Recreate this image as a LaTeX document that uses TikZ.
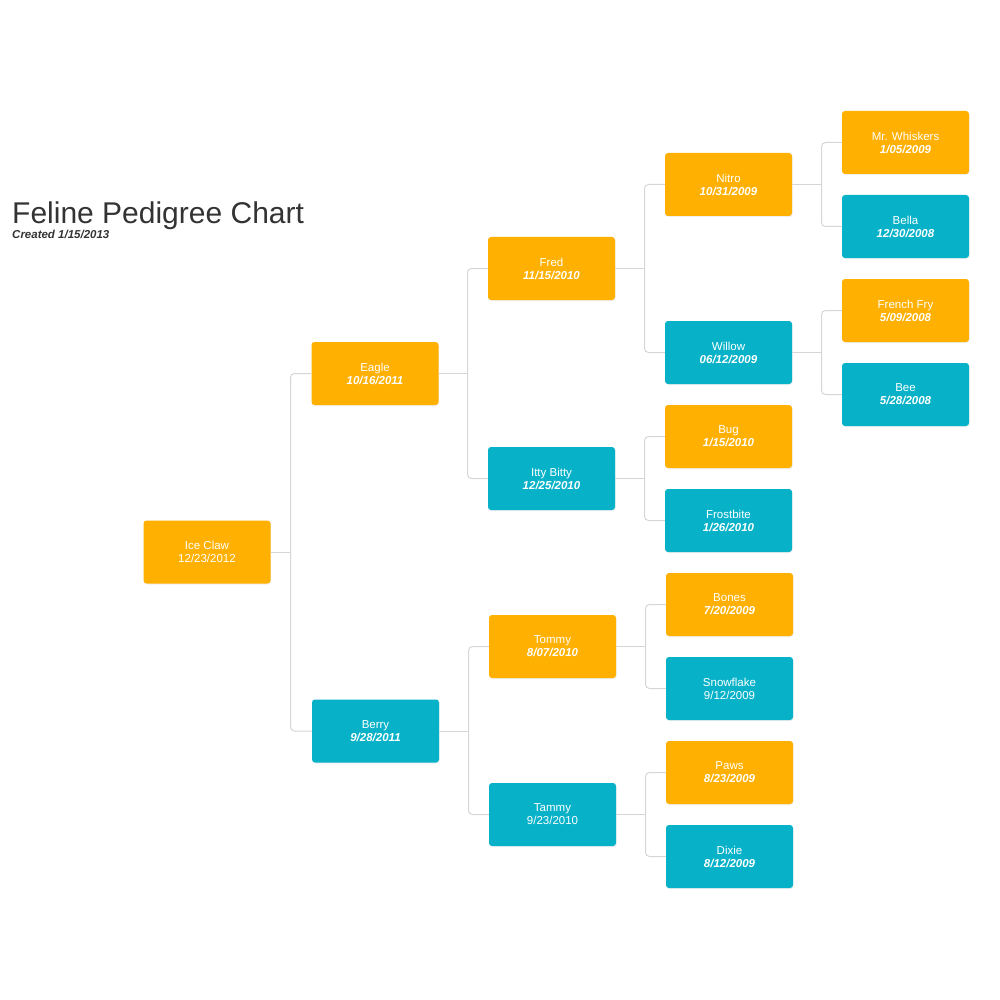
\documentclass[tikz,border=0pt]{standalone}
\usepackage{fontspec}
\setmainfont{Liberation Sans}
\usepackage{tikz}
\usetikzlibrary{shadows}
\definecolor{catorange}{HTML}{FFB000}
\definecolor{catteal}{HTML}{07B2C9}
\definecolor{linkgray}{HTML}{D6D6D6}
\definecolor{titlegray}{HTML}{333333}
\newcommand{\dob}[1]{\textbf{\textit{#1}}}

\begin{document}
\begin{tikzpicture}[x=1pt, y=-1pt,
  cat/.style={rounded corners=3pt, minimum width=127pt, minimum height=63pt, inner sep=0pt,
    text=white, align=center, font=\fontsize{11.5}{13}\selectfont,
    drop shadow={opacity=0.12, shadow xshift=0.6pt, shadow yshift=-1pt}},
  tom/.style={cat, fill=catorange},
  queen/.style={cat, fill=catteal},
  link/.style={linkgray, line width=1pt, rounded corners=4pt}]
\useasboundingbox (0,0) rectangle (1000,1000);
% title
\node[anchor=base west, inner sep=0pt, text=titlegray, font=\fontsize{30}{34}\selectfont] (Title) at (12,223) {Feline Pedigree Chart};
\node[anchor=base west, inner sep=0pt, text=titlegray, font=\fontsize{11.5}{13}\selectfont\bfseries\itshape] (Created) at (12,238) {Created 1/15/2013};
% generation 1
\node[tom] (IceClaw) at (207,552) {Ice Claw\\12/23/2012};
% generation 2
\node[tom] (Eagle) at (375,373.5) {Eagle\\\dob{10/16/2011}};
\node[queen] (Berry) at (375.5,731) {Berry\\\dob{9/28/2011}};
% generation 3
\node[tom] (Fred) at (551.5,268.5) {Fred\\\dob{11/15/2010}};
\node[queen] (IttyBitty) at (551.5,478.5) {Itty Bitty\\\dob{12/25/2010}};
\node[tom] (Tommy) at (552.5,646.5) {Tommy\\\dob{8/07/2010}};
\node[queen] (Tammy) at (552.5,814.5) {Tammy\\9/23/2010};
% generation 4
\node[tom] (Nitro) at (728.5,184.5) {Nitro\\\dob{10/31/2009}};
\node[queen] (Willow) at (728.5,352.5) {Willow\\\dob{06/12/2009}};
\node[tom] (Bug) at (728.5,436.5) {Bug\\\dob{1/15/2010}};
\node[queen] (Frostbite) at (728.5,520.5) {Frostbite\\\dob{1/26/2010}};
\node[tom] (Bones) at (729.5,604.5) {Bones\\\dob{7/20/2009}};
\node[queen] (Snowflake) at (729.5,688.5) {Snowflake\\9/12/2009};
\node[tom] (Paws) at (729.5,772.5) {Paws\\\dob{8/23/2009}};
\node[queen] (Dixie) at (729.5,856.5) {Dixie\\\dob{8/12/2009}};
% generation 5
\node[tom] (Whiskers) at (905.5,142.5) {Mr. Whiskers\\\dob{1/05/2009}};
\node[queen] (Bella) at (905.5,226.5) {Bella\\\dob{12/30/2008}};
\node[tom] (FrenchFry) at (905.5,310.5) {French Fry\\\dob{5/09/2008}};
\node[queen] (Bee) at (905.5,394.5) {Bee\\\dob{5/28/2008}};
% links
\draw[link] (IceClaw.east) -- (290.5,552) coordinate (jIceClaw);
\draw[link] (Eagle.west) -| (jIceClaw) |- (Berry.west);
\draw[link] (Eagle.east) -- (467.5,373.5) coordinate (jEagle);
\draw[link] (Fred.west) -| (jEagle) |- (IttyBitty.west);
\draw[link] (Berry.east) -- (468.5,731) coordinate (jBerry);
\draw[link] (Tommy.west) -| (jBerry) |- (Tammy.west);
\draw[link] (Fred.east) -- (644.5,268.5) coordinate (jFred);
\draw[link] (Nitro.west) -| (jFred) |- (Willow.west);
\draw[link] (IttyBitty.east) -- (644.5,478.5) coordinate (jIttyBitty);
\draw[link] (Bug.west) -| (jIttyBitty) |- (Frostbite.west);
\draw[link] (Tommy.east) -- (645.5,646.5) coordinate (jTommy);
\draw[link] (Bones.west) -| (jTommy) |- (Snowflake.west);
\draw[link] (Tammy.east) -- (645.5,814.5) coordinate (jTammy);
\draw[link] (Paws.west) -| (jTammy) |- (Dixie.west);
\draw[link] (Nitro.east) -- (821.5,184.5) coordinate (jNitro);
\draw[link] (Whiskers.west) -| (jNitro) |- (Bella.west);
\draw[link] (Willow.east) -- (821.5,352.5) coordinate (jWillow);
\draw[link] (FrenchFry.west) -| (jWillow) |- (Bee.west);
\end{tikzpicture}
\end{document}
